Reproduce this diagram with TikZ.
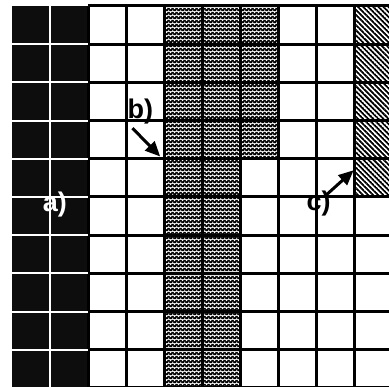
\documentclass[tikz,border=0pt]{standalone}
\usepackage{fontspec}
\setmainfont{Liberation Sans}
\usetikzlibrary{positioning,arrows.meta,patterns.meta}

\tikzdeclarepattern{
  name=checks,
  type=colored,
  bounding box={(0pt,0pt) and (4pt,4pt)},
  tile size={(4pt,4pt)},
  code={
    \fill[black] (0pt,0pt) rectangle (4pt,4pt);
    \fill[white] (1pt,1pt) circle (0.85pt);
    \fill[white] (3pt,3pt) circle (0.85pt);
  }
}
\tikzdeclarepattern{
  name=hatch,
  bounding box={(0pt,-1pt) and (3.6pt,1pt)},
  tile size={(3.6pt,3.6pt)},
  tile transformation={rotate=-45},
  code={
    \draw[line width=1.8pt] (0pt,0pt) -- (3.6pt,0pt);
  }
}

\begin{document}
\begin{tikzpicture}[x=38pt,y=38.2pt,
  gridline/.style={line width=3pt},
  whiteline/.style={white,line width=2pt},
  tag/.style={font=\fontsize{27}{27}\selectfont\bfseries,inner sep=0pt},
  pointer/.style={line width=3pt,-{Triangle[length=15pt,width=13pt]}}]
  \useasboundingbox (-12pt,6pt) rectangle (377pt,-381pt);
  \clip (-12pt,6pt) rectangle (377pt,-381pt);
  % filled strips
  \fill[black!95] (0,0) rectangle (2,-10);
  \fill[pattern=checks] (4,0) rectangle (7,-4);
  \fill[pattern=checks] (4,-4) rectangle (6,-10);
  \fill[pattern=hatch] (9,0) rectangle (10,-5);
  % grid
  \foreach \i in {2,...,10}
    \draw[gridline] (\i,0) -- (\i,-10);
  \foreach \j in {0,...,10}
    \draw[gridline] (2,-\j) -- (10,-\j);
  \draw[whiteline] (1,0) -- (1,-10);
  \foreach \j in {1,...,10}
    \draw[whiteline] (0,-\j) -- (2,-\j);
  % labels
  \node[tag,white] (la) at (1.13,-5.2) {a)};
  \node[tag] (lb) at (3.38,-2.76) {b)};
  \node[tag] (lc) at (8.07,-5.16) {c)};
  \coordinate (tb) at (3.9,-3.94);
  \coordinate (tc) at (8.99,-4.3);
  \draw[pointer] ([shift={(5pt,-4pt)}]lb.south west) -- (tb);
  \draw[pointer] ([shift={(-5pt,-5pt)}]lc.north east) -- (tc);
\end{tikzpicture}
\end{document}
